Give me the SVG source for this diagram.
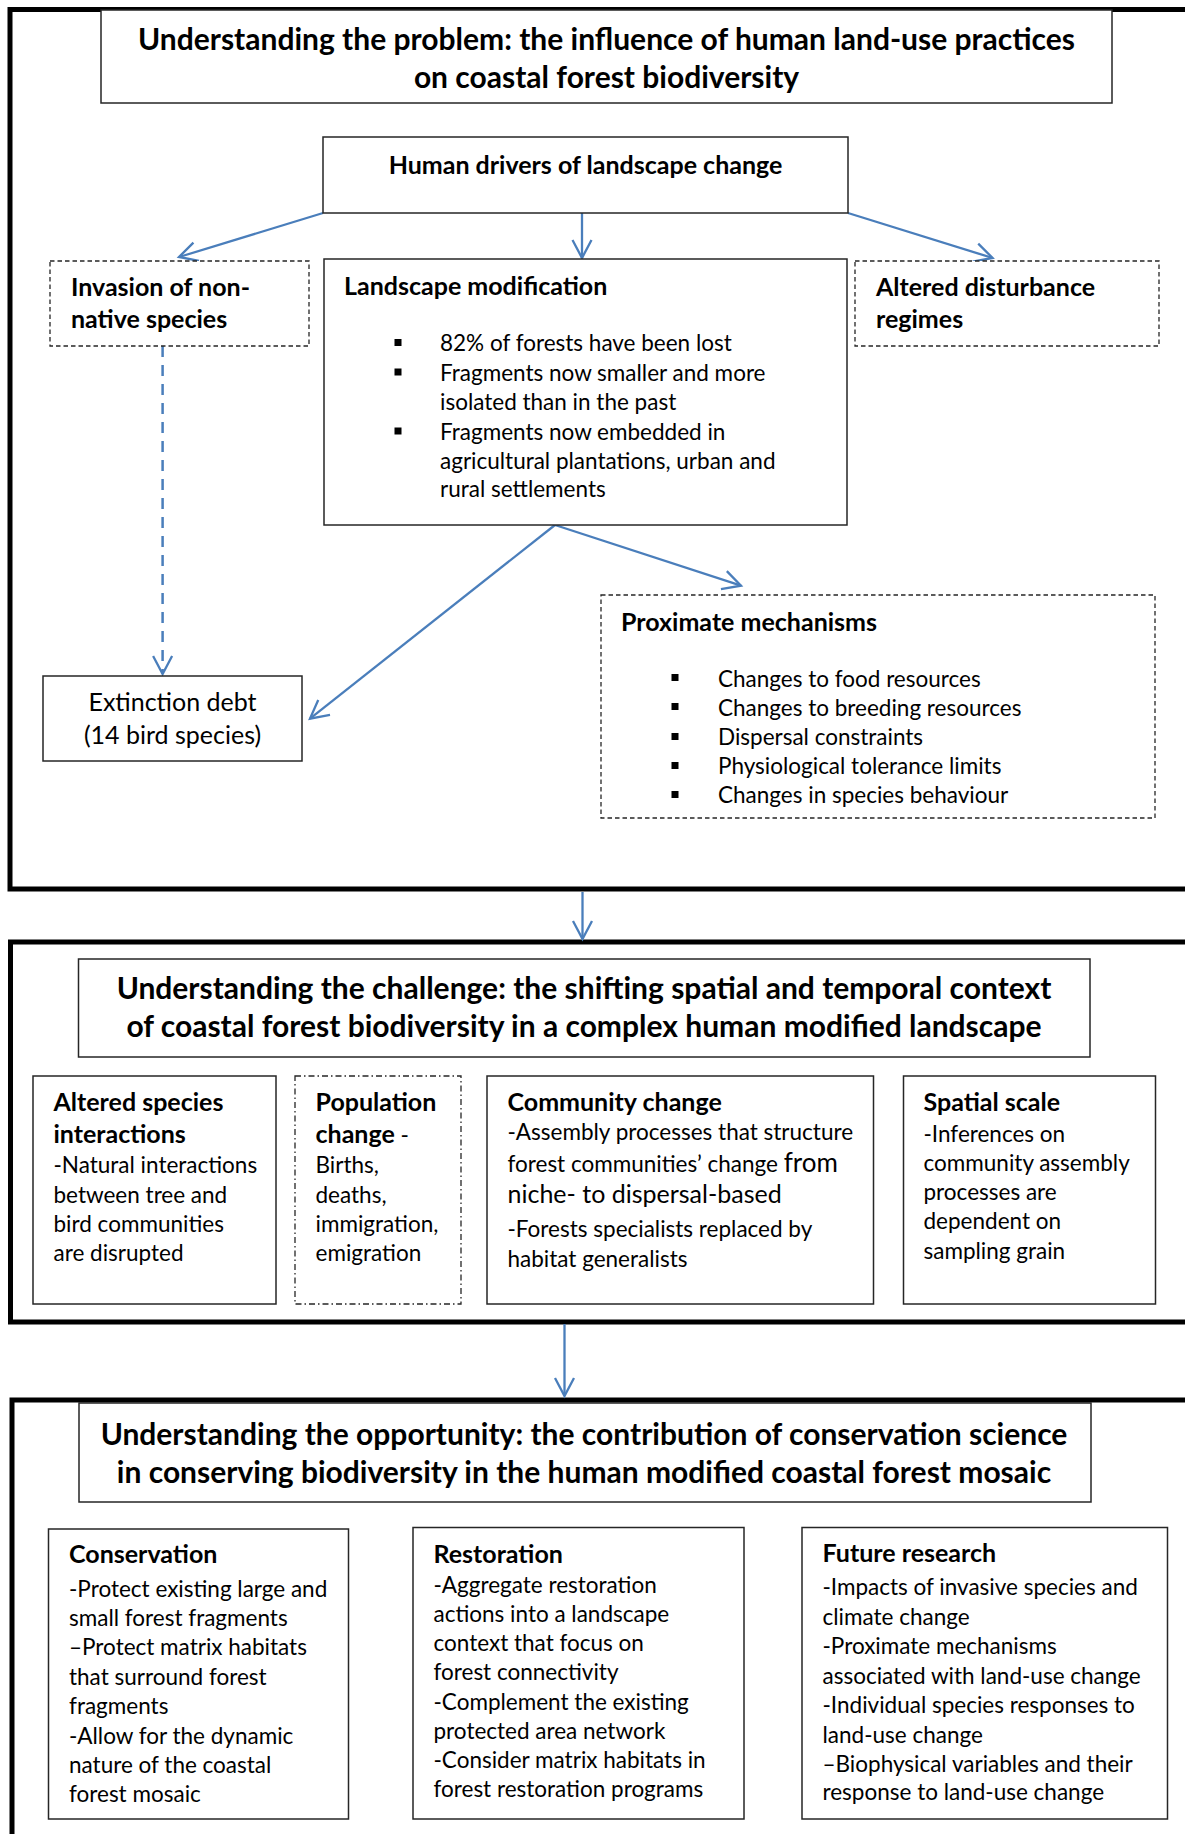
<svg xmlns="http://www.w3.org/2000/svg" width="1185" height="1834" viewBox="0 0 1185 1834">
<style>
text{font-family:Lato,"Open Sans","Liberation Sans",sans-serif;fill:#000}
.t{font-size:30px;font-weight:bold;text-anchor:middle}
.h{font-size:25px;font-weight:bold}
.b{font-size:22.5px}
.bc{font-size:25px;text-anchor:middle}
.frame{fill:none;stroke:#000;stroke-width:5}
.box{fill:#fff;stroke:#262626;stroke-width:1.5}
.dash{fill:#fff;stroke:#262626;stroke-width:1.3;stroke-dasharray:4.5 3}
.dashdot{fill:#fff;stroke:#262626;stroke-width:1.3;stroke-dasharray:6 3 1.5 3}
.ar{fill:none;stroke:#4A7EBB;stroke-width:2.3;marker-end:url(#ah)}
.ard{fill:none;stroke:#4A7EBB;stroke-width:2.5;stroke-dasharray:11 8;marker-end:url(#ah)}
.bl{fill:#000}
</style>
<defs>
<marker id="ah" markerUnits="userSpaceOnUse" markerWidth="26" markerHeight="26" viewBox="0 0 26 26" refX="21" refY="13" orient="auto" overflow="visible">
<path d="M3,3.5 L21,13 L3,22.5" fill="none" stroke="#4A7EBB" stroke-width="2.3"/>
</marker>
</defs>
<rect width="1185" height="1834" fill="#fff"/>

<g id="frames">
<rect class="frame" x="10" y="9.5" width="1200" height="879.5"/>
<rect class="frame" x="10.5" y="942" width="1200" height="380"/>
<rect class="frame" x="12" y="1400" width="1200" height="460"/>
</g>

<g id="connectors">
<line class="ar" x1="323" y1="213" x2="179" y2="257"/>
<line class="ar" x1="582" y1="213" x2="582" y2="258"/>
<line class="ar" x1="848" y1="213" x2="992.6" y2="258"/>
<line class="ard" x1="162.6" y1="346" x2="162.6" y2="674"/>
<line class="ar" x1="555" y1="525" x2="310" y2="718.6"/>
<line class="ar" x1="555" y1="525" x2="741" y2="585.7"/>
<line class="ar" x1="582.5" y1="892" x2="582.5" y2="939"/>
<line class="ar" x1="564.5" y1="1324" x2="564.5" y2="1396"/>
</g>

<g id="title1">
<rect class="box" x="101" y="10" width="1011" height="93"/>
<text class="t" x="606.5" y="50">Understanding the problem: the influence of human land-use practices</text>
<text class="t" x="606.5" y="88">on coastal forest biodiversity</text>
</g>

<g id="human-drivers">
<rect class="box" x="323" y="137" width="525" height="76"/>
<text class="h" x="585.5" y="174" text-anchor="middle">Human drivers of landscape change</text>
</g>

<g id="invasion">
<rect class="dash" x="50" y="261" width="259" height="85"/>
<text class="h" x="71" y="296">Invasion of non-</text>
<text class="h" x="71" y="328">native species</text>
</g>

<g id="landscape-modification">
<rect class="box" x="324" y="259" width="523" height="266"/>
<text class="h" x="344" y="295">Landscape modification</text>
<rect class="bl" x="394.5" y="339" width="7" height="7"/>
<text class="b" x="440" y="351">82% of forests have been lost</text>
<rect class="bl" x="394.5" y="368.5" width="7" height="7"/>
<text class="b" x="440" y="381">Fragments now smaller and more</text>
<text class="b" x="440" y="410">isolated than in the past</text>
<rect class="bl" x="394.5" y="427.5" width="7" height="7"/>
<text class="b" x="440" y="440">Fragments now embedded in</text>
<text class="b" x="440" y="469">agricultural plantations, urban and</text>
<text class="b" x="440" y="497">rural settlements</text>
</g>

<g id="altered-disturbance">
<rect class="dash" x="855" y="261" width="304" height="85"/>
<text class="h" x="876" y="296">Altered disturbance</text>
<text class="h" x="876" y="328">regimes</text>
</g>

<g id="extinction-debt">
<rect class="box" x="43" y="676" width="259" height="85"/>
<text class="bc" x="172.5" y="711">Extinction debt</text>
<text class="bc" x="172.5" y="744">(14 bird species)</text>
</g>

<g id="proximate-mechanisms">
<rect class="dash" x="601" y="595" width="554" height="223"/>
<text class="h" x="621" y="631">Proximate mechanisms</text>
<rect class="bl" x="671.5" y="674" width="7" height="7"/>
<text class="b" x="718" y="686.5">Changes to food resources</text>
<rect class="bl" x="671.5" y="703" width="7" height="7"/>
<text class="b" x="718" y="715.5">Changes to breeding resources</text>
<rect class="bl" x="671.5" y="733" width="7" height="7"/>
<text class="b" x="718" y="745">Dispersal constraints</text>
<rect class="bl" x="671.5" y="762" width="7" height="7"/>
<text class="b" x="718" y="774">Physiological tolerance limits</text>
<rect class="bl" x="671.5" y="791" width="7" height="7"/>
<text class="b" x="718" y="803">Changes in species behaviour</text>
</g>

<g id="title2">
<rect class="box" x="78.5" y="959" width="1011.5" height="98"/>
<text class="t" x="584" y="999">Understanding the challenge: the shifting spatial and temporal context</text>
<text class="t" x="584" y="1037">of coastal forest biodiversity in a complex human modified landscape</text>
</g>

<g id="altered-species">
<rect class="box" x="33" y="1076" width="243" height="228"/>
<text class="h" x="53.5" y="1111">Altered species</text>
<text class="h" x="53.5" y="1143">interactions</text>
<text class="b" x="53.5" y="1173">-Natural interactions</text>
<text class="b" x="53.5" y="1203">between tree and</text>
<text class="b" x="53.5" y="1232">bird communities</text>
<text class="b" x="53.5" y="1261">are disrupted</text>
</g>

<g id="population-change">
<rect class="dashdot" x="295" y="1076" width="166" height="228"/>
<text class="h" x="315.5" y="1111">Population</text>
<text class="h" x="315.5" y="1143">change<tspan style="font-weight:normal;font-size:22.5px"> -</tspan></text>
<text class="b" x="315.5" y="1173">Births,</text>
<text class="b" x="315.5" y="1203">deaths,</text>
<text class="b" x="315.5" y="1232">immigration,</text>
<text class="b" x="315.5" y="1261">emigration</text>
</g>

<g id="community-change">
<rect class="box" x="487" y="1076" width="386.5" height="228"/>
<text class="h" x="507.5" y="1111">Community change</text>
<text class="b" x="507.5" y="1140">-Assembly processes that structure</text>
<text class="b" x="507.5" y="1171.5">forest communities’ change <tspan style="font-size:26px">from</tspan></text>
<text x="507.5" y="1203" style="font-size:25px">niche- to dispersal-based</text>
<text class="b" x="507.5" y="1237">-Forests specialists replaced by</text>
<text class="b" x="507.5" y="1266.5">habitat generalists</text>
</g>

<g id="spatial-scale">
<rect class="box" x="903.5" y="1076" width="252" height="228"/>
<text class="h" x="923.5" y="1111">Spatial scale</text>
<text class="b" x="923.5" y="1141.5">-Inferences on</text>
<text class="b" x="923.5" y="1170.5">community assembly</text>
<text class="b" x="923.5" y="1199.5">processes are</text>
<text class="b" x="923.5" y="1229">dependent on</text>
<text class="b" x="923.5" y="1258.5">sampling grain</text>
</g>

<g id="title3">
<rect class="box" x="79" y="1403" width="1012" height="99"/>
<text class="t" x="584" y="1445">Understanding the opportunity: the contribution of conservation science</text>
<text class="t" x="584" y="1483">in conserving biodiversity in the human modified coastal forest mosaic</text>
</g>

<g id="conservation">
<rect class="box" x="48.5" y="1529" width="300" height="290"/>
<text class="h" x="69" y="1563">Conservation</text>
<text class="b" x="69" y="1596.5">-Protect existing large and</text>
<text class="b" x="69" y="1626">small forest fragments</text>
<text class="b" x="69" y="1655">–Protect matrix habitats</text>
<text class="b" x="69" y="1685">that surround forest</text>
<text class="b" x="69" y="1713.5">fragments</text>
<text class="b" x="69" y="1743.5">-Allow for the dynamic</text>
<text class="b" x="69" y="1772.5">nature of the coastal</text>
<text class="b" x="69" y="1801.5">forest mosaic</text>
</g>

<g id="restoration">
<rect class="box" x="413" y="1527.5" width="331" height="291.5"/>
<text class="h" x="433.5" y="1563">Restoration</text>
<text class="b" x="433.5" y="1593">-Aggregate restoration</text>
<text class="b" x="433.5" y="1622">actions into a landscape</text>
<text class="b" x="433.5" y="1651">context that focus on</text>
<text class="b" x="433.5" y="1680">forest connectivity</text>
<text class="b" x="433.5" y="1710">-Complement the existing</text>
<text class="b" x="433.5" y="1738.5">protected area network</text>
<text class="b" x="433.5" y="1768">-Consider matrix habitats in</text>
<text class="b" x="433.5" y="1797">forest restoration programs</text>
</g>

<g id="future-research">
<rect class="box" x="802" y="1527.5" width="365.5" height="291.5"/>
<text class="h" x="822.5" y="1562">Future research</text>
<text class="b" x="822.5" y="1595">-Impacts of invasive species and</text>
<text class="b" x="822.5" y="1625">climate change</text>
<text class="b" x="822.5" y="1654">-Proximate mechanisms</text>
<text class="b" x="822.5" y="1683.5">associated with land-use change</text>
<text class="b" x="822.5" y="1713">-Individual species responses to</text>
<text class="b" x="822.5" y="1742.5">land-use change</text>
<text class="b" x="822.5" y="1771.5">–Biophysical variables and their</text>
<text class="b" x="822.5" y="1800">response to land-use change</text>
</g>
</svg>
